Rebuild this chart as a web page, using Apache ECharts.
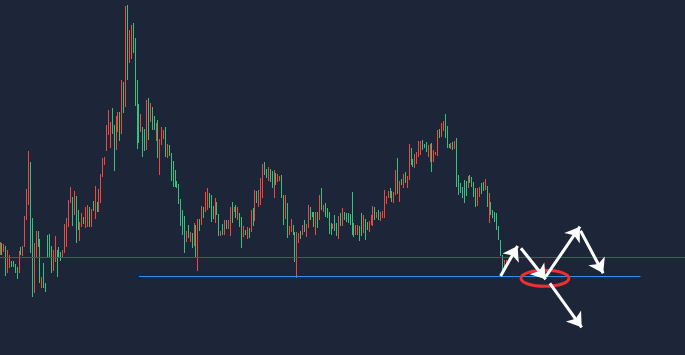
<!DOCTYPE html>
<html lang="en">
<head>
<meta charset="UTF-8">
<title>Chart</title>
<style>
    html, body { margin: 0; padding: 0; background: #1d2538; }
    #main { width: 685px; height: 355px; }
</style>
<script src="https://cdn.jsdelivr.net/npm/echarts@6/dist/echarts.min.js"></script>
</head>
<body>
<div id="main"></div>
<script>
    // bar highs / lows (price units)
    var highs = [
        113, 112, 111, 109, 105, 100, 94, 94, 91, 88,
        104, 108, 109, 139, 166, 204, 193, 137, 112, 124,
        124, 116, 78, 92, 72, 120, 121, 109, 105, 119,
        105, 108, 103, 105, 131, 137, 155, 168, 158, 164,
        159, 145, 133, 142, 138, 148, 150, 148, 146, 154,
        169, 153, 166, 181, 197, 198, 230, 245, 233, 247,
        230, 239, 243, 243, 275, 273, 349, 350, 325, 330,
        332, 317, 275, 251, 241, 228, 226, 255, 257, 252,
        248, 239, 232, 235, 216, 228, 225, 228, 211, 210,
        202, 194, 185, 174, 171, 156, 145, 139, 124, 130,
        123, 122, 132, 130, 136, 136, 149, 148, 163, 167,
        162, 160, 149, 157, 153, 141, 124, 131, 135, 135,
        135, 148, 153, 148, 150, 148, 142, 138, 129, 125,
        128, 127, 145, 147, 165, 164, 165, 177, 191, 193,
        186, 188, 186, 184, 185, 182, 181, 179, 180, 160,
        160, 152, 129, 136, 130, 123, 123, 122, 124, 130,
        135, 131, 150, 148, 143, 143, 143, 143, 160, 167,
        150, 152, 147, 143, 132, 131, 140, 132, 139, 142,
        147, 143, 142, 142, 141, 163, 132, 130, 130, 129,
        142, 140, 136, 133, 134, 140, 149, 148, 143, 145,
        143, 144, 165, 159, 164, 167, 164, 163, 185, 197,
        174, 176, 181, 183, 179, 211, 207, 196, 201, 203,
        214, 214, 215, 211, 213, 210, 211, 212, 205, 203,
        225, 226, 232, 234, 241, 229, 211, 212, 213, 214,
        217, 180, 172, 168, 175, 174, 179, 180, 178, 173,
        167, 167, 168, 172, 173, 176, 169, 162, 153, 145,
        143, 142, 129, 115, 100, 95, 95
    ];
    var lows = [
        100, 100, 103, 79, 82, 87, 88, 88, 82, 76,
        82, 100, 99, 108, 135, 150, 102, 58, 62, 98,
        108, 72, 67, 67, 63, 98, 98, 82, 84, 93,
        78, 98, 94, 98, 102, 108, 128, 152, 129, 140,
        112, 125, 114, 128, 131, 127, 128, 128, 128, 144,
        136, 143, 143, 152, 178, 190, 204, 220, 207, 221,
        184, 205, 223, 214, 221, 242, 248, 275, 292, 296,
        302, 249, 206, 212, 223, 198, 204, 205, 215, 233,
        225, 225, 214, 197, 180, 210, 216, 198, 197, 199,
        174, 168, 168, 167, 151, 129, 120, 102, 113, 117,
        113, 107, 109, 97, 84, 124, 130, 137, 143, 145,
        147, 133, 136, 132, 140, 119, 119, 120, 120, 126,
        126, 119, 132, 143, 137, 135, 128, 107, 118, 120,
        116, 117, 123, 129, 134, 152, 148, 150, 157, 180,
        177, 174, 173, 167, 157, 170, 173, 174, 157, 130,
        136, 117, 120, 123, 120, 93, 77, 112, 116, 120,
        123, 118, 127, 135, 138, 128, 120, 127, 135, 145,
        143, 138, 137, 121, 120, 126, 124, 119, 116, 129,
        129, 135, 133, 132, 130, 120, 118, 120, 120, 114,
        119, 122, 115, 125, 123, 130, 129, 135, 137, 135,
        134, 137, 137, 151, 157, 157, 153, 152, 160, 161,
        153, 170, 167, 172, 167, 175, 190, 188, 187, 191,
        198, 200, 205, 207, 203, 198, 193, 183, 193, 200,
        199, 217, 218, 224, 217, 207, 207, 206, 205, 206,
        168, 160, 162, 157, 152, 159, 167, 172, 168, 158,
        148, 149, 158, 161, 164, 165, 148, 132, 140, 137,
        133, 125, 115, 99, 80, 85, 88
    ];
    // 1 = rising bar (green), 0 = falling bar (red)
    var ups = [
        0, 1, 0, 1, 0, 0, 1, 1, 1, 1,
        0, 1, 0, 0, 0, 0, 1, 1, 0, 0,
        1, 1, 0, 1, 1, 1, 1, 1, 0, 0,
        1, 1, 1, 0, 0, 0, 0, 0, 1, 0,
        1, 1, 0, 0, 1, 0, 0, 1, 0, 1,
        0, 1, 0, 0, 0, 0, 0, 0, 0, 1,
        1, 0, 0, 1, 0, 1, 0, 1, 0, 0,
        1, 1, 1, 1, 0, 1, 1, 0, 1, 0,
        1, 1, 0, 1, 0, 0, 0, 1, 0, 1,
        1, 1, 1, 1, 1, 1, 1, 1, 0, 1,
        0, 1, 0, 1, 0, 1, 0, 1, 0, 0,
        1, 1, 1, 0, 1, 1, 0, 1, 0, 1,
        0, 0, 1, 0, 1, 0, 1, 1, 0, 1,
        0, 1, 0, 1, 0, 1, 0, 0, 0, 1,
        1, 0, 1, 1, 0, 1, 0, 0, 1, 1,
        0, 1, 0, 0, 1, 1, 0, 0, 1, 0,
        1, 0, 0, 1, 1, 1, 0, 1, 0, 1,
        0, 1, 1, 1, 1, 0, 1, 1, 0, 1,
        0, 1, 1, 1, 1, 1, 1, 0, 0, 1,
        1, 0, 1, 1, 0, 0, 0, 1, 0, 1,
        0, 0, 0, 0, 0, 1, 1, 0, 0, 1,
        0, 1, 0, 1, 0, 0, 1, 1, 0, 0,
        0, 0, 1, 1, 1, 0, 0, 1, 0, 0,
        0, 1, 0, 0, 1, 1, 1, 0, 1, 0,
        1, 1, 1, 1, 1, 1, 0, 1, 1, 1,
        1, 0, 0, 1, 1, 0, 1, 0, 1, 1,
        1, 1, 1, 1, 1, 0, 0
    ];

    // levels and drawn annotations (x in bar slots, y in price)
    var refLevel = 97.5;
    var supportLevel = 79;
    var supportFrom = 73, supportTo = 336.6;
    var arrowPaths = [
        [[263.1, 79], [272.0, 109]],
        [[273.8, 106.7], [286.8, 75.7]],
        [[286.8, 78.3], [304.8, 128.3]],
        [[305.1, 124.3], [317.0, 81.7]],
        [[289.0, 71.7], [305.7, 27.7]]
    ];
    var ringCenter = [286.4, 76.7];

    var slots = 361;
    var upColor = '#33c27a';
    var downColor = '#f0483c';

    var bars = highs.map(function (h, i) {
        return [i, h, lows[i], ups[i]];
    });

    var chart = echarts.init(document.getElementById('main'));

    var option = {
        backgroundColor: '#1d2538',
        animation: false,
        grid: { left: 0, right: 0, top: 0, bottom: 0 },
        xAxis: { type: 'value', min: 0, max: slots - 1, show: false },
        yAxis: { type: 'value', min: 0, max: 355, show: false, splitLine: { show: false } },
        series: [
            {
                type: 'custom',
                data: bars,
                encode: { x: 0, y: [1, 2] },
                renderItem: function (params, api) {
                    var top = api.coord([api.value(0), api.value(1)]);
                    var bot = api.coord([api.value(0), api.value(2)]);
                    return {
                        type: 'rect',
                        shape: {
                            x: Math.floor(top[0]),
                            y: top[1],
                            width: 1,
                            height: Math.max(1, bot[1] - top[1])
                        },
                        style: { fill: api.value(3) ? upColor : downColor }
                    };
                },
                markLine: {
                    silent: true,
                    symbol: 'none',
                    label: { show: false },
                    lineStyle: { color: '#77454d', width: 1, type: 'solid' },
                    data: [{ yAxis: refLevel }]
                }
            },
            {
                type: 'lines',
                coordinateSystem: 'cartesian2d',
                silent: true,
                symbol: 'none',
                lineStyle: { color: '#2b8ff0', width: 1, opacity: 1 },
                data: [{ coords: [[supportFrom, supportLevel], [supportTo, supportLevel]] }]
            },
            {
                type: 'lines',
                coordinateSystem: 'cartesian2d',
                silent: true,
                z: 5,
                symbol: ['none', 'arrow'],
                symbolSize: [11, 14],
                lineStyle: { color: '#ffffff', width: 3, opacity: 1 },
                data: arrowPaths.map(function (p) { return { coords: p }; })
            }
        ]
    };

    chart.setOption(option);

    var c = chart.convertToPixel({ xAxisIndex: 0, yAxisIndex: 0 }, ringCenter);
    chart.setOption({
        graphic: [{
            type: 'ellipse',
            z: 3,
            silent: true,
            shape: { cx: c[0], cy: c[1], rx: 24, ry: 8 },
            style: { fill: 'none', stroke: '#ee3030', lineWidth: 3 }
        }]
    });
</script>
</body>
</html>
